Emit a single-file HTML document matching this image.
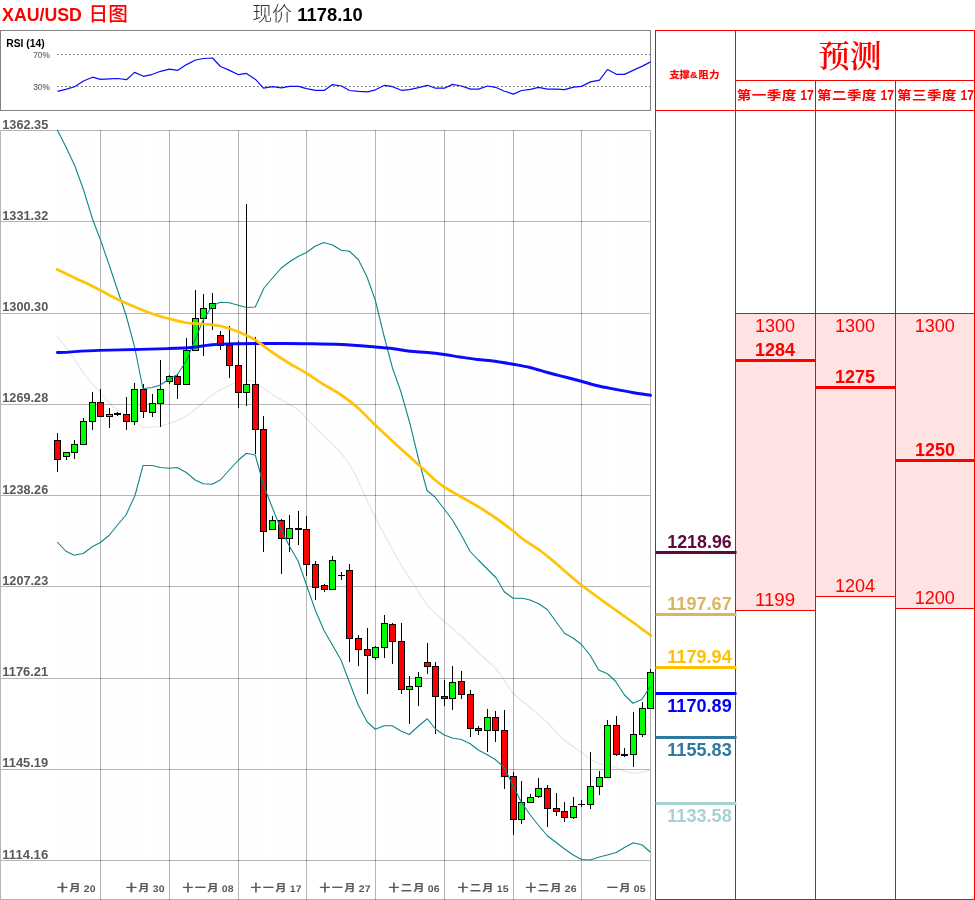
<!DOCTYPE html>
<html lang="zh-CN">
<head>
<meta charset="utf-8">
<title>XAU/USD 日图</title>
<style>
html,body{margin:0;padding:0;background:#fff;}
body{width:975px;height:900px;overflow:hidden;}
svg{display:block;}
</style>
</head>
<body>
<svg width="975" height="900" viewBox="0 0 975 900" role="img" aria-label="XAU/USD 日图">
<rect width="975" height="900" fill="#ffffff"/>
<text><tspan x="2.1" y="21.1" font-size="18.9" fill="#ff0000" font-weight="bold" text-anchor="start" font-family='"Liberation Sans", "Noto Sans CJK SC", sans-serif' textLength="79.8" lengthAdjust="spacingAndGlyphs" >XAU/USD</tspan> <tspan x="88.6" y="20.6" font-size="19.6" fill="#ff0000" font-weight="500" text-anchor="start" font-family='"Liberation Sans", "Noto Sans CJK SC", sans-serif' textLength="39.2" lengthAdjust="spacingAndGlyphs" >日图</tspan></text>
<text><tspan x="252.2" y="21.2" font-size="20.4" fill="#303030" font-weight="300" text-anchor="start" font-family='"Liberation Sans", "Noto Sans CJK SC", sans-serif' textLength="39.8" lengthAdjust="spacingAndGlyphs" >现价</tspan> <tspan x="297.3" y="21.3" font-size="18.9" fill="#000000" font-weight="bold" text-anchor="start" font-family='"Liberation Sans", "Noto Sans CJK SC", sans-serif' textLength="65.4" lengthAdjust="spacingAndGlyphs" >1178.10</tspan></text>
<g shape-rendering="crispEdges">
<rect x="0" y="30" width="651" height="1" fill="#808080"/>
<rect x="0" y="110" width="651" height="1" fill="#808080"/>
<rect x="0" y="30" width="1" height="81" fill="#808080"/>
<rect x="650" y="30" width="1" height="81" fill="#808080"/>
</g>
<text x="6.3" y="47" font-size="11.4" fill="#000000" font-weight="bold" text-anchor="start" font-family='"Liberation Sans", "Noto Sans CJK SC", sans-serif' textLength="38.4" lengthAdjust="spacingAndGlyphs" >RSI (14)</text>
<text x="33.2" y="58" font-size="8.3" fill="#666666" font-weight="normal" text-anchor="start" font-family='"Liberation Sans", "Noto Sans CJK SC", sans-serif' textLength="16.6" lengthAdjust="spacingAndGlyphs" stroke="#666666" stroke-width="0.15">70%</text>
<text x="33.2" y="90" font-size="8.3" fill="#666666" font-weight="normal" text-anchor="start" font-family='"Liberation Sans", "Noto Sans CJK SC", sans-serif' textLength="16.6" lengthAdjust="spacingAndGlyphs" stroke="#666666" stroke-width="0.15">30%</text>
<path d="M57 54.5H650M57 86.5H650" stroke="#6a6a6a" stroke-width="1" stroke-dasharray="1.6 2.4" fill="none"/>
<polyline points="57.50,91.40 66.50,89.10 74.50,86.70 83.50,81.00 92.50,77.20 100.50,79.40 109.50,78.80 117.50,78.50 126.50,79.70 134.50,72.40 143.50,76.30 152.50,74.30 160.50,71.30 169.50,69.10 177.50,70.40 186.50,64.60 195.50,60.00 203.50,58.50 212.50,58.00 220.50,66.50 229.50,70.40 238.50,74.70 246.50,73.40 255.50,79.40 263.50,88.20 272.50,86.70 281.50,87.80 289.50,86.40 298.50,86.40 306.50,88.70 315.50,90.30 324.50,90.30 332.50,84.60 341.50,86.00 349.50,90.50 358.50,91.40 367.50,91.90 375.50,89.80 384.50,85.30 392.50,86.70 401.50,90.30 409.50,89.60 418.50,87.70 427.50,85.30 435.50,88.20 444.50,88.20 452.50,84.40 461.50,86.00 470.50,89.10 478.50,89.10 487.50,86.00 495.50,87.30 504.50,91.20 513.50,94.10 521.50,90.50 530.50,89.40 538.50,87.30 547.50,89.10 556.50,89.10 564.50,89.60 573.50,87.10 581.50,86.40 590.50,81.90 599.50,80.10 607.50,69.50 616.50,74.30 624.50,74.40 633.50,70.10 642.50,66.10 650.50,61.90" fill="none" stroke="#0a0aff" stroke-width="1.2" stroke-linejoin="round"/>
<g shape-rendering="crispEdges">
<rect x="57" y="131" width="1" height="729" fill="#fdfdfd"/>
<rect x="66" y="131" width="1" height="729" fill="#fdfdfd"/>
<rect x="74" y="131" width="1" height="729" fill="#fdfdfd"/>
<rect x="83" y="131" width="1" height="729" fill="#fdfdfd"/>
<rect x="92" y="131" width="1" height="729" fill="#fdfdfd"/>
<rect x="109" y="131" width="1" height="729" fill="#fdfdfd"/>
<rect x="117" y="131" width="1" height="729" fill="#fdfdfd"/>
<rect x="126" y="131" width="1" height="729" fill="#fdfdfd"/>
<rect x="134" y="131" width="1" height="729" fill="#fdfdfd"/>
<rect x="143" y="131" width="1" height="729" fill="#fdfdfd"/>
<rect x="152" y="131" width="1" height="729" fill="#fdfdfd"/>
<rect x="160" y="131" width="1" height="729" fill="#fdfdfd"/>
<rect x="177" y="131" width="1" height="729" fill="#fdfdfd"/>
<rect x="186" y="131" width="1" height="729" fill="#fdfdfd"/>
<rect x="195" y="131" width="1" height="729" fill="#fdfdfd"/>
<rect x="203" y="131" width="1" height="729" fill="#fdfdfd"/>
<rect x="212" y="131" width="1" height="729" fill="#fdfdfd"/>
<rect x="220" y="131" width="1" height="729" fill="#fdfdfd"/>
<rect x="229" y="131" width="1" height="729" fill="#fdfdfd"/>
<rect x="246" y="131" width="1" height="729" fill="#fdfdfd"/>
<rect x="255" y="131" width="1" height="729" fill="#fdfdfd"/>
<rect x="263" y="131" width="1" height="729" fill="#fdfdfd"/>
<rect x="272" y="131" width="1" height="729" fill="#fdfdfd"/>
<rect x="281" y="131" width="1" height="729" fill="#fdfdfd"/>
<rect x="289" y="131" width="1" height="729" fill="#fdfdfd"/>
<rect x="298" y="131" width="1" height="729" fill="#fdfdfd"/>
<rect x="315" y="131" width="1" height="729" fill="#fdfdfd"/>
<rect x="324" y="131" width="1" height="729" fill="#fdfdfd"/>
<rect x="332" y="131" width="1" height="729" fill="#fdfdfd"/>
<rect x="341" y="131" width="1" height="729" fill="#fdfdfd"/>
<rect x="349" y="131" width="1" height="729" fill="#fdfdfd"/>
<rect x="358" y="131" width="1" height="729" fill="#fdfdfd"/>
<rect x="367" y="131" width="1" height="729" fill="#fdfdfd"/>
<rect x="384" y="131" width="1" height="729" fill="#fdfdfd"/>
<rect x="392" y="131" width="1" height="729" fill="#fdfdfd"/>
<rect x="401" y="131" width="1" height="729" fill="#fdfdfd"/>
<rect x="409" y="131" width="1" height="729" fill="#fdfdfd"/>
<rect x="418" y="131" width="1" height="729" fill="#fdfdfd"/>
<rect x="427" y="131" width="1" height="729" fill="#fdfdfd"/>
<rect x="435" y="131" width="1" height="729" fill="#fdfdfd"/>
<rect x="452" y="131" width="1" height="729" fill="#fdfdfd"/>
<rect x="461" y="131" width="1" height="729" fill="#fdfdfd"/>
<rect x="470" y="131" width="1" height="729" fill="#fdfdfd"/>
<rect x="478" y="131" width="1" height="729" fill="#fdfdfd"/>
<rect x="487" y="131" width="1" height="729" fill="#fdfdfd"/>
<rect x="495" y="131" width="1" height="729" fill="#fdfdfd"/>
<rect x="504" y="131" width="1" height="729" fill="#fdfdfd"/>
<rect x="521" y="131" width="1" height="729" fill="#fdfdfd"/>
<rect x="530" y="131" width="1" height="729" fill="#fdfdfd"/>
<rect x="538" y="131" width="1" height="729" fill="#fdfdfd"/>
<rect x="547" y="131" width="1" height="729" fill="#fdfdfd"/>
<rect x="556" y="131" width="1" height="729" fill="#fdfdfd"/>
<rect x="564" y="131" width="1" height="729" fill="#fdfdfd"/>
<rect x="573" y="131" width="1" height="729" fill="#fdfdfd"/>
<rect x="590" y="131" width="1" height="729" fill="#fdfdfd"/>
<rect x="599" y="131" width="1" height="729" fill="#fdfdfd"/>
<rect x="607" y="131" width="1" height="729" fill="#fdfdfd"/>
<rect x="616" y="131" width="1" height="729" fill="#fdfdfd"/>
<rect x="624" y="131" width="1" height="729" fill="#fdfdfd"/>
<rect x="633" y="131" width="1" height="729" fill="#fdfdfd"/>
<rect x="642" y="131" width="1" height="729" fill="#fdfdfd"/>
</g>
<path d="M57.25 336.25C58.71 338.12 63.17 343.75 66.00 347.50C68.83 351.25 71.38 354.58 74.25 358.75C77.12 362.92 80.25 368.33 83.25 372.50C86.25 376.67 89.42 380.42 92.25 383.75C95.08 387.08 97.46 389.38 100.25 392.50C103.04 395.62 106.12 399.58 109.00 402.50C111.88 405.42 114.67 407.92 117.50 410.00C120.33 412.08 123.21 413.12 126.00 415.00C128.79 416.88 131.42 419.25 134.25 421.25C137.08 423.25 140.00 426.04 143.00 427.00C146.00 427.96 149.38 427.12 152.25 427.00C155.12 426.88 157.42 426.88 160.25 426.25C163.08 425.62 166.42 424.21 169.25 423.25C172.08 422.29 174.42 421.67 177.25 420.50C180.08 419.33 183.25 418.12 186.25 416.25C189.25 414.38 192.42 411.54 195.25 409.25C198.08 406.96 200.42 404.88 203.25 402.50C206.08 400.12 209.42 397.08 212.25 395.00C215.08 392.92 217.42 391.58 220.25 390.00C223.08 388.42 226.25 386.83 229.25 385.50C232.25 384.17 234.79 382.83 238.25 382.00C241.71 381.17 247.17 380.42 250.00 380.50C252.83 380.58 251.08 379.88 255.25 382.50C259.42 385.12 267.83 391.67 275.00 396.25C282.17 400.83 291.58 404.79 298.25 410.00C304.92 415.21 308.98 421.50 315.00 427.50C321.02 433.50 329.30 440.75 334.40 446.00C339.50 451.25 342.27 454.58 345.60 459.00C348.93 463.42 351.45 466.92 354.40 472.50C357.35 478.08 359.82 485.00 363.30 492.50C366.78 500.00 371.22 509.58 375.25 517.50C379.28 525.42 383.17 532.08 387.50 540.00C391.83 547.92 396.67 557.29 401.25 565.00C405.83 572.71 410.67 579.58 415.00 586.25C419.33 592.92 422.38 599.17 427.25 605.00C432.12 610.83 438.58 616.04 444.25 621.25C449.92 626.46 455.58 631.04 461.25 636.25C466.92 641.46 472.58 647.21 478.25 652.50C483.92 657.79 490.92 663.42 495.25 668.00C499.58 672.58 501.25 675.79 504.25 680.00C507.25 684.21 508.92 688.67 513.25 693.25C517.58 697.83 524.58 702.62 530.25 707.50C535.92 712.38 541.58 717.08 547.25 722.50C552.92 727.92 558.54 735.00 564.25 740.00C569.96 745.00 577.17 749.29 581.50 752.50C585.83 755.71 587.29 757.38 590.25 759.25C593.21 761.12 596.42 762.71 599.25 763.75C602.08 764.79 604.42 764.88 607.25 765.50C610.08 766.12 613.38 766.54 616.25 767.50C619.12 768.46 621.67 770.33 624.50 771.25C627.33 772.17 630.29 772.88 633.25 773.00C636.21 773.12 639.42 772.50 642.25 772.00C645.08 771.50 648.92 770.33 650.25 770.00" fill="none" stroke="#e5e5e5" stroke-width="1.1" stroke-linejoin="round"/>
<g shape-rendering="crispEdges" fill-opacity="0.29">
<rect x="1" y="130" width="649" height="1" fill="#000"/>
<rect x="1" y="221" width="649" height="1" fill="#000"/>
<rect x="1" y="313" width="649" height="1" fill="#000"/>
<rect x="1" y="404" width="649" height="1" fill="#000"/>
<rect x="1" y="495" width="649" height="1" fill="#000"/>
<rect x="1" y="586" width="649" height="1" fill="#000"/>
<rect x="1" y="678" width="649" height="1" fill="#000"/>
<rect x="1" y="769" width="649" height="1" fill="#000"/>
<rect x="1" y="860" width="649" height="1" fill="#000"/>
<rect x="1" y="899" width="649" height="1" fill="#000"/>
<rect x="100" y="130" width="1" height="770" fill="#000"/>
<rect x="169" y="130" width="1" height="770" fill="#000"/>
<rect x="238" y="130" width="1" height="770" fill="#000"/>
<rect x="306" y="130" width="1" height="770" fill="#000"/>
<rect x="375" y="130" width="1" height="770" fill="#000"/>
<rect x="444" y="130" width="1" height="770" fill="#000"/>
<rect x="513" y="130" width="1" height="770" fill="#000"/>
<rect x="581" y="130" width="1" height="770" fill="#000"/>
<rect x="650" y="130" width="1" height="770" fill="#000"/>
<rect x="0" y="130" width="1" height="770" fill="#000"/>
</g>
<text x="2.3" y="128.65" font-size="12.6" fill="#595959" font-weight="bold" text-anchor="start" font-family='"Liberation Sans", "Noto Sans CJK SC", sans-serif' textLength="45.9" lengthAdjust="spacingAndGlyphs" >1362.35</text>
<text x="2.3" y="219.55" font-size="12.6" fill="#595959" font-weight="bold" text-anchor="start" font-family='"Liberation Sans", "Noto Sans CJK SC", sans-serif' textLength="45.9" lengthAdjust="spacingAndGlyphs" >1331.32</text>
<text x="2.3" y="310.55" font-size="12.6" fill="#595959" font-weight="bold" text-anchor="start" font-family='"Liberation Sans", "Noto Sans CJK SC", sans-serif' textLength="45.9" lengthAdjust="spacingAndGlyphs" >1300.30</text>
<text x="2.3" y="401.55" font-size="12.6" fill="#595959" font-weight="bold" text-anchor="start" font-family='"Liberation Sans", "Noto Sans CJK SC", sans-serif' textLength="45.9" lengthAdjust="spacingAndGlyphs" >1269.28</text>
<text x="2.3" y="493.65" font-size="12.6" fill="#595959" font-weight="bold" text-anchor="start" font-family='"Liberation Sans", "Noto Sans CJK SC", sans-serif' textLength="45.9" lengthAdjust="spacingAndGlyphs" >1238.26</text>
<text x="2.3" y="584.55" font-size="12.6" fill="#595959" font-weight="bold" text-anchor="start" font-family='"Liberation Sans", "Noto Sans CJK SC", sans-serif' textLength="45.9" lengthAdjust="spacingAndGlyphs" >1207.23</text>
<text x="2.3" y="675.55" font-size="12.6" fill="#595959" font-weight="bold" text-anchor="start" font-family='"Liberation Sans", "Noto Sans CJK SC", sans-serif' textLength="45.9" lengthAdjust="spacingAndGlyphs" >1176.21</text>
<text x="2.3" y="766.55" font-size="12.6" fill="#595959" font-weight="bold" text-anchor="start" font-family='"Liberation Sans", "Noto Sans CJK SC", sans-serif' textLength="45.9" lengthAdjust="spacingAndGlyphs" >1145.19</text>
<text x="2.3" y="858.75" font-size="12.6" fill="#595959" font-weight="bold" text-anchor="start" font-family='"Liberation Sans", "Noto Sans CJK SC", sans-serif' textLength="45.9" lengthAdjust="spacingAndGlyphs" >1114.16</text>
<text transform="scale(1.2,1)"><tspan x="47.50 58.00" y="891.3" font-size="9.0" fill="#595959" font-weight="bold" text-anchor="start" font-family='"Liberation Sans", "Noto Sans CJK SC", sans-serif' stroke="#595959" stroke-width="0.25">十月</tspan> <tspan x="79.58" y="891.5" font-size="9.5" fill="#595959" font-weight="bold" text-anchor="end" font-family='"Liberation Sans", "Noto Sans CJK SC", sans-serif' textLength="9.75" lengthAdjust="spacingAndGlyphs" text-rendering="geometricPrecision">20</tspan></text>
<text transform="scale(1.2,1)"><tspan x="105.00 115.50" y="891.3" font-size="9.0" fill="#595959" font-weight="bold" text-anchor="start" font-family='"Liberation Sans", "Noto Sans CJK SC", sans-serif' stroke="#595959" stroke-width="0.25">十月</tspan> <tspan x="137.08" y="891.5" font-size="9.5" fill="#595959" font-weight="bold" text-anchor="end" font-family='"Liberation Sans", "Noto Sans CJK SC", sans-serif' textLength="9.75" lengthAdjust="spacingAndGlyphs" text-rendering="geometricPrecision">30</tspan></text>
<text transform="scale(1.2,1)"><tspan x="152.00 162.50 173.00" y="891.3" font-size="9.0" fill="#595959" font-weight="bold" text-anchor="start" font-family='"Liberation Sans", "Noto Sans CJK SC", sans-serif' stroke="#595959" stroke-width="0.25">十一月</tspan> <tspan x="194.58" y="891.5" font-size="9.5" fill="#595959" font-weight="bold" text-anchor="end" font-family='"Liberation Sans", "Noto Sans CJK SC", sans-serif' textLength="9.75" lengthAdjust="spacingAndGlyphs" text-rendering="geometricPrecision">08</tspan></text>
<text transform="scale(1.2,1)"><tspan x="208.67 219.17 229.67" y="891.3" font-size="9.0" fill="#595959" font-weight="bold" text-anchor="start" font-family='"Liberation Sans", "Noto Sans CJK SC", sans-serif' stroke="#595959" stroke-width="0.25">十一月</tspan> <tspan x="251.25" y="891.5" font-size="9.5" fill="#595959" font-weight="bold" text-anchor="end" font-family='"Liberation Sans", "Noto Sans CJK SC", sans-serif' textLength="9.75" lengthAdjust="spacingAndGlyphs" text-rendering="geometricPrecision">17</tspan></text>
<text transform="scale(1.2,1)"><tspan x="266.17 276.67 287.17" y="891.3" font-size="9.0" fill="#595959" font-weight="bold" text-anchor="start" font-family='"Liberation Sans", "Noto Sans CJK SC", sans-serif' stroke="#595959" stroke-width="0.25">十一月</tspan> <tspan x="308.75" y="891.5" font-size="9.5" fill="#595959" font-weight="bold" text-anchor="end" font-family='"Liberation Sans", "Noto Sans CJK SC", sans-serif' textLength="9.75" lengthAdjust="spacingAndGlyphs" text-rendering="geometricPrecision">27</tspan></text>
<text transform="scale(1.2,1)"><tspan x="323.67 334.17 344.67" y="891.3" font-size="9.0" fill="#595959" font-weight="bold" text-anchor="start" font-family='"Liberation Sans", "Noto Sans CJK SC", sans-serif' stroke="#595959" stroke-width="0.25">十二月</tspan> <tspan x="366.25" y="891.5" font-size="9.5" fill="#595959" font-weight="bold" text-anchor="end" font-family='"Liberation Sans", "Noto Sans CJK SC", sans-serif' textLength="9.75" lengthAdjust="spacingAndGlyphs" text-rendering="geometricPrecision">06</tspan></text>
<text transform="scale(1.2,1)"><tspan x="381.17 391.67 402.17" y="891.3" font-size="9.0" fill="#595959" font-weight="bold" text-anchor="start" font-family='"Liberation Sans", "Noto Sans CJK SC", sans-serif' stroke="#595959" stroke-width="0.25">十二月</tspan> <tspan x="423.75" y="891.5" font-size="9.5" fill="#595959" font-weight="bold" text-anchor="end" font-family='"Liberation Sans", "Noto Sans CJK SC", sans-serif' textLength="9.75" lengthAdjust="spacingAndGlyphs" text-rendering="geometricPrecision">15</tspan></text>
<text transform="scale(1.2,1)"><tspan x="437.83 448.33 458.83" y="891.3" font-size="9.0" fill="#595959" font-weight="bold" text-anchor="start" font-family='"Liberation Sans", "Noto Sans CJK SC", sans-serif' stroke="#595959" stroke-width="0.25">十二月</tspan> <tspan x="480.42" y="891.5" font-size="9.5" fill="#595959" font-weight="bold" text-anchor="end" font-family='"Liberation Sans", "Noto Sans CJK SC", sans-serif' textLength="9.75" lengthAdjust="spacingAndGlyphs" text-rendering="geometricPrecision">26</tspan></text>
<text transform="scale(1.2,1)"><tspan x="505.83 516.33" y="891.3" font-size="9.0" fill="#595959" font-weight="bold" text-anchor="start" font-family='"Liberation Sans", "Noto Sans CJK SC", sans-serif' stroke="#595959" stroke-width="0.25">一月</tspan> <tspan x="537.92" y="891.5" font-size="9.5" fill="#595959" font-weight="bold" text-anchor="end" font-family='"Liberation Sans", "Noto Sans CJK SC", sans-serif' textLength="9.75" lengthAdjust="spacingAndGlyphs" text-rendering="geometricPrecision">05</tspan></text>
<g shape-rendering="crispEdges">
<rect x="57" y="433" width="1" height="39" fill="#000"/>
<rect x="54" y="440" width="7" height="20" fill="#000"/>
<rect x="55" y="441" width="5" height="18" fill="#ff0000"/>
<rect x="66" y="452" width="1" height="8" fill="#000"/>
<rect x="63" y="452" width="7" height="5" fill="#000"/>
<rect x="64" y="453" width="5" height="3" fill="#00ff00"/>
<rect x="74" y="440" width="1" height="19" fill="#000"/>
<rect x="71" y="444" width="7" height="9" fill="#000"/>
<rect x="72" y="445" width="5" height="7" fill="#00ff00"/>
<rect x="83" y="418" width="1" height="27" fill="#000"/>
<rect x="80" y="421" width="7" height="24" fill="#000"/>
<rect x="81" y="422" width="5" height="22" fill="#00ff00"/>
<rect x="92" y="392" width="1" height="38" fill="#000"/>
<rect x="89" y="402" width="7" height="20" fill="#000"/>
<rect x="90" y="403" width="5" height="18" fill="#00ff00"/>
<rect x="100" y="389" width="1" height="28" fill="#000"/>
<rect x="97" y="402" width="7" height="15" fill="#000"/>
<rect x="98" y="403" width="5" height="13" fill="#ff0000"/>
<rect x="109" y="408" width="1" height="20" fill="#000"/>
<rect x="106" y="414" width="7" height="3" fill="#000"/>
<rect x="107" y="415" width="5" height="1" fill="#00ff00"/>
<rect x="117" y="412" width="1" height="4" fill="#000"/>
<rect x="114" y="413" width="7" height="2" fill="#000"/>
<rect x="126" y="397" width="1" height="33" fill="#000"/>
<rect x="123" y="414" width="7" height="8" fill="#000"/>
<rect x="124" y="415" width="5" height="6" fill="#ff0000"/>
<rect x="134" y="383" width="1" height="42" fill="#000"/>
<rect x="131" y="389" width="7" height="33" fill="#000"/>
<rect x="132" y="390" width="5" height="31" fill="#00ff00"/>
<rect x="143" y="384" width="1" height="34" fill="#000"/>
<rect x="140" y="389" width="7" height="23" fill="#000"/>
<rect x="141" y="390" width="5" height="21" fill="#ff0000"/>
<rect x="152" y="394" width="1" height="23" fill="#000"/>
<rect x="149" y="403" width="7" height="10" fill="#000"/>
<rect x="150" y="404" width="5" height="8" fill="#00ff00"/>
<rect x="160" y="360" width="1" height="67" fill="#000"/>
<rect x="157" y="389" width="7" height="15" fill="#000"/>
<rect x="158" y="390" width="5" height="13" fill="#00ff00"/>
<rect x="169" y="375" width="1" height="9" fill="#000"/>
<rect x="166" y="376" width="7" height="6" fill="#000"/>
<rect x="167" y="377" width="5" height="4" fill="#00ff00"/>
<rect x="177" y="374" width="1" height="25" fill="#000"/>
<rect x="174" y="376" width="7" height="9" fill="#000"/>
<rect x="175" y="377" width="5" height="7" fill="#ff0000"/>
<rect x="186" y="338" width="1" height="47" fill="#000"/>
<rect x="183" y="350" width="7" height="35" fill="#000"/>
<rect x="184" y="351" width="5" height="33" fill="#00ff00"/>
<rect x="195" y="290" width="1" height="61" fill="#000"/>
<rect x="192" y="318" width="7" height="33" fill="#000"/>
<rect x="193" y="319" width="5" height="31" fill="#00ff00"/>
<rect x="203" y="294" width="1" height="62" fill="#000"/>
<rect x="200" y="308" width="7" height="11" fill="#000"/>
<rect x="201" y="309" width="5" height="9" fill="#00ff00"/>
<rect x="212" y="293" width="1" height="37" fill="#000"/>
<rect x="209" y="303" width="7" height="6" fill="#000"/>
<rect x="210" y="304" width="5" height="4" fill="#00ff00"/>
<rect x="220" y="331" width="1" height="19" fill="#000"/>
<rect x="217" y="335" width="7" height="11" fill="#000"/>
<rect x="218" y="336" width="5" height="9" fill="#ff0000"/>
<rect x="229" y="326" width="1" height="52" fill="#000"/>
<rect x="226" y="345" width="7" height="21" fill="#000"/>
<rect x="227" y="346" width="5" height="19" fill="#ff0000"/>
<rect x="238" y="341" width="1" height="67" fill="#000"/>
<rect x="235" y="365" width="7" height="28" fill="#000"/>
<rect x="236" y="366" width="5" height="26" fill="#ff0000"/>
<rect x="246" y="204" width="1" height="202" fill="#000"/>
<rect x="243" y="384" width="7" height="9" fill="#000"/>
<rect x="244" y="385" width="5" height="7" fill="#00ff00"/>
<rect x="255" y="337" width="1" height="117" fill="#000"/>
<rect x="252" y="384" width="7" height="46" fill="#000"/>
<rect x="253" y="385" width="5" height="44" fill="#ff0000"/>
<rect x="263" y="416" width="1" height="136" fill="#000"/>
<rect x="260" y="429" width="7" height="103" fill="#000"/>
<rect x="261" y="430" width="5" height="101" fill="#ff0000"/>
<rect x="272" y="516" width="1" height="14" fill="#000"/>
<rect x="269" y="520" width="7" height="10" fill="#000"/>
<rect x="270" y="521" width="5" height="8" fill="#00ff00"/>
<rect x="281" y="519" width="1" height="55" fill="#000"/>
<rect x="278" y="520" width="7" height="19" fill="#000"/>
<rect x="279" y="521" width="5" height="17" fill="#ff0000"/>
<rect x="289" y="515" width="1" height="37" fill="#000"/>
<rect x="286" y="528" width="7" height="11" fill="#000"/>
<rect x="287" y="529" width="5" height="9" fill="#00ff00"/>
<rect x="298" y="511" width="1" height="34" fill="#000"/>
<rect x="295" y="528" width="7" height="2" fill="#000"/>
<rect x="306" y="516" width="1" height="60" fill="#000"/>
<rect x="303" y="529" width="7" height="36" fill="#000"/>
<rect x="304" y="530" width="5" height="34" fill="#ff0000"/>
<rect x="315" y="561" width="1" height="39" fill="#000"/>
<rect x="312" y="564" width="7" height="24" fill="#000"/>
<rect x="313" y="565" width="5" height="22" fill="#ff0000"/>
<rect x="324" y="584" width="1" height="8" fill="#000"/>
<rect x="321" y="585" width="7" height="5" fill="#000"/>
<rect x="322" y="586" width="5" height="3" fill="#ff0000"/>
<rect x="332" y="556" width="1" height="34" fill="#000"/>
<rect x="329" y="560" width="7" height="30" fill="#000"/>
<rect x="330" y="561" width="5" height="28" fill="#00ff00"/>
<rect x="341" y="572" width="1" height="8" fill="#000"/>
<rect x="338" y="575" width="7" height="1" fill="#000"/>
<rect x="349" y="564" width="1" height="98" fill="#000"/>
<rect x="346" y="570" width="7" height="69" fill="#000"/>
<rect x="347" y="571" width="5" height="67" fill="#ff0000"/>
<rect x="358" y="635" width="1" height="31" fill="#000"/>
<rect x="355" y="638" width="7" height="12" fill="#000"/>
<rect x="356" y="639" width="5" height="10" fill="#ff0000"/>
<rect x="367" y="628" width="1" height="66" fill="#000"/>
<rect x="364" y="649" width="7" height="7" fill="#000"/>
<rect x="365" y="650" width="5" height="5" fill="#ff0000"/>
<rect x="375" y="646" width="1" height="14" fill="#000"/>
<rect x="372" y="647" width="7" height="11" fill="#000"/>
<rect x="373" y="648" width="5" height="9" fill="#00ff00"/>
<rect x="384" y="615" width="1" height="43" fill="#000"/>
<rect x="381" y="623" width="7" height="25" fill="#000"/>
<rect x="382" y="624" width="5" height="23" fill="#00ff00"/>
<rect x="392" y="623" width="1" height="41" fill="#000"/>
<rect x="389" y="624" width="7" height="18" fill="#000"/>
<rect x="390" y="625" width="5" height="16" fill="#ff0000"/>
<rect x="401" y="623" width="1" height="71" fill="#000"/>
<rect x="398" y="641" width="7" height="49" fill="#000"/>
<rect x="399" y="642" width="5" height="47" fill="#ff0000"/>
<rect x="409" y="676" width="1" height="48" fill="#000"/>
<rect x="406" y="686" width="7" height="4" fill="#000"/>
<rect x="407" y="687" width="5" height="2" fill="#00ff00"/>
<rect x="418" y="672" width="1" height="34" fill="#000"/>
<rect x="415" y="677" width="7" height="10" fill="#000"/>
<rect x="416" y="678" width="5" height="8" fill="#00ff00"/>
<rect x="427" y="643" width="1" height="31" fill="#000"/>
<rect x="424" y="662" width="7" height="5" fill="#000"/>
<rect x="425" y="663" width="5" height="3" fill="#ff0000"/>
<rect x="435" y="662" width="1" height="72" fill="#000"/>
<rect x="432" y="666" width="7" height="31" fill="#000"/>
<rect x="433" y="667" width="5" height="29" fill="#ff0000"/>
<rect x="444" y="680" width="1" height="26" fill="#000"/>
<rect x="441" y="696" width="7" height="3" fill="#000"/>
<rect x="442" y="697" width="5" height="1" fill="#ff0000"/>
<rect x="452" y="666" width="1" height="44" fill="#000"/>
<rect x="449" y="682" width="7" height="17" fill="#000"/>
<rect x="450" y="683" width="5" height="15" fill="#00ff00"/>
<rect x="461" y="671" width="1" height="28" fill="#000"/>
<rect x="458" y="681" width="7" height="14" fill="#000"/>
<rect x="459" y="682" width="5" height="12" fill="#ff0000"/>
<rect x="470" y="690" width="1" height="47" fill="#000"/>
<rect x="467" y="694" width="7" height="35" fill="#000"/>
<rect x="468" y="695" width="5" height="33" fill="#ff0000"/>
<rect x="478" y="726" width="1" height="9" fill="#000"/>
<rect x="475" y="728" width="7" height="3" fill="#000"/>
<rect x="476" y="729" width="5" height="1" fill="#ff0000"/>
<rect x="487" y="709" width="1" height="43" fill="#000"/>
<rect x="484" y="717" width="7" height="14" fill="#000"/>
<rect x="485" y="718" width="5" height="12" fill="#00ff00"/>
<rect x="495" y="711" width="1" height="31" fill="#000"/>
<rect x="492" y="717" width="7" height="14" fill="#000"/>
<rect x="493" y="718" width="5" height="12" fill="#ff0000"/>
<rect x="504" y="710" width="1" height="79" fill="#000"/>
<rect x="501" y="730" width="7" height="47" fill="#000"/>
<rect x="502" y="731" width="5" height="45" fill="#ff0000"/>
<rect x="513" y="772" width="1" height="63" fill="#000"/>
<rect x="510" y="776" width="7" height="44" fill="#000"/>
<rect x="511" y="777" width="5" height="42" fill="#ff0000"/>
<rect x="521" y="781" width="1" height="43" fill="#000"/>
<rect x="518" y="802" width="7" height="18" fill="#000"/>
<rect x="519" y="803" width="5" height="16" fill="#00ff00"/>
<rect x="530" y="794" width="1" height="9" fill="#000"/>
<rect x="527" y="797" width="7" height="6" fill="#000"/>
<rect x="528" y="798" width="5" height="4" fill="#00ff00"/>
<rect x="538" y="778" width="1" height="20" fill="#000"/>
<rect x="535" y="788" width="7" height="9" fill="#000"/>
<rect x="536" y="789" width="5" height="7" fill="#00ff00"/>
<rect x="547" y="785" width="1" height="42" fill="#000"/>
<rect x="544" y="788" width="7" height="21" fill="#000"/>
<rect x="545" y="789" width="5" height="19" fill="#ff0000"/>
<rect x="556" y="793" width="1" height="23" fill="#000"/>
<rect x="553" y="808" width="7" height="4" fill="#000"/>
<rect x="554" y="809" width="5" height="2" fill="#ff0000"/>
<rect x="564" y="802" width="1" height="20" fill="#000"/>
<rect x="561" y="811" width="7" height="7" fill="#000"/>
<rect x="562" y="812" width="5" height="5" fill="#ff0000"/>
<rect x="573" y="797" width="1" height="22" fill="#000"/>
<rect x="570" y="806" width="7" height="12" fill="#000"/>
<rect x="571" y="807" width="5" height="10" fill="#00ff00"/>
<rect x="581" y="800" width="1" height="7" fill="#000"/>
<rect x="578" y="804" width="7" height="1" fill="#000"/>
<rect x="590" y="752" width="1" height="57" fill="#000"/>
<rect x="587" y="786" width="7" height="19" fill="#000"/>
<rect x="588" y="787" width="5" height="17" fill="#00ff00"/>
<rect x="599" y="771" width="1" height="24" fill="#000"/>
<rect x="596" y="777" width="7" height="10" fill="#000"/>
<rect x="597" y="778" width="5" height="8" fill="#00ff00"/>
<rect x="607" y="720" width="1" height="58" fill="#000"/>
<rect x="604" y="725" width="7" height="53" fill="#000"/>
<rect x="605" y="726" width="5" height="51" fill="#00ff00"/>
<rect x="616" y="716" width="1" height="40" fill="#000"/>
<rect x="613" y="725" width="7" height="30" fill="#000"/>
<rect x="614" y="726" width="5" height="28" fill="#ff0000"/>
<rect x="624" y="748" width="1" height="9" fill="#000"/>
<rect x="621" y="754" width="7" height="2" fill="#000"/>
<rect x="633" y="712" width="1" height="55" fill="#000"/>
<rect x="630" y="734" width="7" height="21" fill="#000"/>
<rect x="631" y="735" width="5" height="19" fill="#00ff00"/>
<rect x="642" y="702" width="1" height="35" fill="#000"/>
<rect x="639" y="708" width="7" height="27" fill="#000"/>
<rect x="640" y="709" width="5" height="25" fill="#00ff00"/>
<rect x="650" y="669" width="1" height="40" fill="#000"/>
<rect x="647" y="672" width="7" height="37" fill="#000"/>
<rect x="648" y="673" width="5" height="35" fill="#00ff00"/>
</g>
<polyline points="57.30,130.00 66.25,147.60 75.00,166.30 83.75,190.50 92.50,219.00 100.50,240.00 109.00,264.50 117.50,290.00 126.00,315.00 134.60,347.00 143.00,388.75 152.25,387.50 160.25,385.00 169.40,379.00 177.40,374.50 186.25,361.00 195.00,340.00 203.25,320.00 212.25,305.75 220.25,302.25 229.25,302.75 238.25,305.25 246.50,307.50 255.25,307.00 264.00,288.00 272.50,278.00 281.25,268.00 290.00,261.50 298.00,256.50 306.50,252.50 315.00,246.25 323.75,242.50 332.50,245.00 341.25,250.25 349.50,251.25 358.25,259.50 366.75,276.25 375.25,300.00 383.75,335.00 392.50,368.00 401.00,392.00 410.00,423.75 418.75,460.00 427.00,490.50 435.00,497.00 444.25,509.25 452.50,520.00 461.25,535.00 470.00,551.25 478.75,560.50 487.50,569.25 496.25,578.00 504.25,591.75 513.00,598.25 522.50,598.25 530.00,600.00 538.75,603.75 547.25,609.50 556.25,622.00 564.50,633.25 573.00,638.00 581.25,644.25 590.00,655.00 598.75,670.00 607.50,673.75 615.50,681.25 624.50,695.00 633.00,703.25 641.75,699.50 650.50,686.25" fill="none" stroke="#0d8686" stroke-width="1.08" stroke-linejoin="round"/>
<polyline points="57.25,542.00 66.00,551.25 74.25,555.25 83.25,553.50 92.25,546.75 100.25,542.50 109.00,535.50 117.50,525.00 126.00,515.00 135.00,495.50 143.00,465.50 152.25,465.50 160.25,467.50 169.25,468.25 177.25,467.50 186.25,472.50 195.25,480.00 203.25,483.75 212.25,484.25 220.25,480.00 229.25,470.00 238.25,460.25 246.50,453.25 255.25,455.00 263.50,485.00 272.25,507.50 281.25,530.00 289.50,546.25 298.10,561.00 306.50,585.00 315.25,610.00 323.75,630.00 332.40,645.00 341.00,660.00 349.50,682.50 358.25,705.00 367.25,722.00 375.25,729.25 384.25,725.75 392.25,725.75 401.25,731.25 409.25,734.50 418.25,726.25 427.25,718.75 435.25,728.75 444.25,735.00 452.25,738.00 461.25,739.50 470.25,743.75 478.25,750.00 487.25,754.75 495.25,759.50 504.25,767.50 513.25,786.25 521.50,802.50 530.25,815.00 538.25,825.00 547.25,835.75 556.25,842.50 564.25,848.75 573.25,855.00 581.50,859.50 590.25,860.00 599.25,857.00 607.25,855.00 616.25,852.50 624.50,847.50 633.25,842.75 642.25,845.00 650.25,852.00" fill="none" stroke="#0d8686" stroke-width="1.08" stroke-linejoin="round"/>
<path d="M57.40 352.55C58.83 352.52 63.13 352.56 66.00 352.40C68.87 352.24 69.07 351.93 74.60 351.60C80.13 351.27 88.93 350.75 99.20 350.40C109.47 350.05 124.70 349.80 136.20 349.50C147.70 349.20 159.60 348.88 168.20 348.60C176.80 348.32 182.88 348.13 187.80 347.80C192.72 347.47 194.83 346.97 197.70 346.60C200.57 346.23 202.53 345.92 205.00 345.60C207.47 345.28 209.67 344.95 212.50 344.70C215.33 344.45 218.32 344.26 222.00 344.10C225.68 343.94 228.40 343.85 234.60 343.75C240.80 343.65 247.22 343.50 259.20 343.50C271.18 343.50 292.82 343.58 306.50 343.75C320.18 343.92 329.79 343.96 341.25 344.50C352.71 345.04 366.50 346.29 375.25 347.00C384.00 347.71 387.96 348.04 393.75 348.75C399.54 349.46 404.38 350.62 410.00 351.25C415.62 351.88 421.79 351.96 427.50 352.50C433.21 353.04 438.83 353.75 444.25 354.50C449.67 355.25 454.46 356.17 460.00 357.00C465.54 357.83 471.67 358.79 477.50 359.50C483.33 360.21 489.08 360.46 495.00 361.25C500.92 362.04 507.17 363.21 513.00 364.25C518.83 365.29 524.25 366.12 530.00 367.50C535.75 368.88 541.67 370.92 547.50 372.50C553.33 374.08 559.38 375.54 565.00 377.00C570.62 378.46 575.83 379.79 581.25 381.25C586.67 382.71 591.88 384.42 597.50 385.75C603.12 387.08 609.17 388.12 615.00 389.25C620.83 390.38 626.58 391.50 632.50 392.50C638.42 393.50 647.50 394.79 650.50 395.25" fill="none" stroke="#0000ff" stroke-opacity="0.96" stroke-width="2.9" stroke-linejoin="round" stroke-linecap="round"/>
<path d="M57.20 269.40C60.17 270.83 69.12 275.19 75.00 278.00C80.88 280.81 86.83 283.42 92.50 286.25C98.17 289.08 104.12 292.50 109.00 295.00C113.88 297.50 117.21 299.17 121.75 301.25C126.29 303.33 131.17 305.42 136.25 307.50C141.33 309.58 146.75 311.88 152.25 313.75C157.75 315.62 163.58 317.25 169.25 318.75C174.92 320.25 180.58 321.88 186.25 322.75C191.92 323.62 197.58 323.46 203.25 324.00C208.92 324.54 214.42 324.71 220.25 326.00C226.08 327.29 232.42 329.42 238.25 331.75C244.08 334.08 249.54 336.54 255.25 340.00C260.96 343.46 266.71 348.54 272.50 352.50C278.29 356.46 284.33 360.29 290.00 363.75C295.67 367.21 300.88 369.79 306.50 373.25C312.12 376.71 317.96 380.88 323.75 384.50C329.54 388.12 335.62 391.17 341.25 395.00C346.88 398.83 351.83 402.48 357.50 407.50C363.17 412.52 369.42 419.48 375.25 425.10C381.08 430.73 386.71 435.93 392.50 441.25C398.29 446.57 404.38 451.92 410.00 457.00C415.62 462.08 422.08 467.92 426.25 471.75C430.42 475.58 432.00 477.46 435.00 480.00C438.00 482.54 440.08 484.29 444.25 487.00C448.42 489.71 454.46 493.04 460.00 496.25C465.54 499.46 471.67 502.71 477.50 506.25C483.33 509.79 489.08 513.42 495.00 517.50C500.92 521.58 508.42 527.21 513.00 530.75C517.58 534.29 518.00 535.46 522.50 538.75C527.00 542.04 534.58 546.54 540.00 550.50C545.42 554.46 550.83 559.04 555.00 562.50C559.17 565.96 560.62 567.50 565.00 571.25C569.38 575.00 575.83 580.71 581.25 585.00C586.67 589.29 591.88 592.92 597.50 597.00C603.12 601.08 609.17 605.33 615.00 609.50C620.83 613.67 627.50 618.38 632.50 622.00C637.50 625.62 641.95 629.02 645.00 631.25C648.05 633.48 649.83 634.71 650.80 635.40" fill="none" stroke="#ffc408" stroke-width="2.75" stroke-linejoin="round" stroke-linecap="round"/>
<g shape-rendering="crispEdges">
<rect x="735" y="313" width="80" height="297" fill="#ffe3e3"/>
<rect x="735" y="313" width="80" height="1" fill="#ff0000"/>
<rect x="735" y="610" width="80" height="1" fill="#ff0000"/>
<rect x="815" y="313" width="80" height="283" fill="#ffe3e3"/>
<rect x="815" y="313" width="80" height="1" fill="#ff0000"/>
<rect x="815" y="596" width="80" height="1" fill="#ff0000"/>
<rect x="895" y="313" width="79" height="295" fill="#ffe3e3"/>
<rect x="895" y="313" width="79" height="1" fill="#ff0000"/>
<rect x="895" y="608" width="79" height="1" fill="#ff0000"/>
<rect x="655" y="30" width="320" height="1" fill="#ff0000"/>
<rect x="735" y="80" width="240" height="1" fill="#ff0000"/>
<rect x="655" y="110" width="320" height="1" fill="#ff0000"/>
<rect x="655" y="899" width="320" height="1" fill="#ff0000"/>
<rect x="655" y="30" width="1" height="870" fill="#ff0000"/>
<rect x="735" y="30" width="1" height="870" fill="#ff0000"/>
<rect x="815" y="80" width="1" height="820" fill="#ff0000"/>
<rect x="895" y="80" width="1" height="820" fill="#ff0000"/>
<rect x="974" y="30" width="1" height="870" fill="#ff0000"/>
<rect x="735" y="359" width="80" height="3" fill="#ff0000"/>
<rect x="815" y="386" width="80" height="3" fill="#ff0000"/>
<rect x="895" y="459" width="80" height="3" fill="#ff0000"/>
</g>
<text transform="scale(1.12,1)"><tspan x="597.68 606.70" y="78.3" font-size="9.0" fill="#ff0000" font-weight="bold" text-anchor="start" font-family='"Liberation Sans", "Noto Sans CJK SC", sans-serif' stroke="#ff0000" stroke-width="0.2">支撑</tspan><tspan x="616.07" y="78.5" font-size="8.8" fill="#ff0000" font-weight="bold" text-anchor="start" font-family='"Liberation Sans", "Noto Sans CJK SC", sans-serif' textLength="6.79" lengthAdjust="spacingAndGlyphs" stroke="#ff0000" stroke-width="0.2">&amp;</tspan><tspan x="623.66 633.30" y="78.3" font-size="9.0" fill="#ff0000" font-weight="bold" text-anchor="start" font-family='"Liberation Sans", "Noto Sans CJK SC", sans-serif' stroke="#ff0000" stroke-width="0.2">阻力</tspan></text>
<text x="849.7" y="66.7" font-size="31" fill="#ff0000" font-weight="600" text-anchor="middle" font-family='"Liberation Serif", "Noto Serif CJK SC", serif' textLength="63.6" lengthAdjust="spacingAndGlyphs" >预测</text>
<text transform="scale(1.17,1)"><tspan x="629.74 642.52 655.30 668.08" y="99.7" font-size="12.5" fill="#ff0000" font-weight="bold" text-anchor="start" font-family='"Liberation Sans", "Noto Sans CJK SC", sans-serif' >第一季度</tspan> <tspan x="695.64" y="100.1" font-size="14.4" fill="#ff0000" font-weight="bold" text-anchor="end" font-family='"Liberation Sans", "Noto Sans CJK SC", sans-serif' textLength="11.62" lengthAdjust="spacingAndGlyphs" >17</tspan></text>
<text transform="scale(1.17,1)"><tspan x="698.29 711.07 723.85 736.62" y="99.7" font-size="12.5" fill="#ff0000" font-weight="bold" text-anchor="start" font-family='"Liberation Sans", "Noto Sans CJK SC", sans-serif' >第二季度</tspan> <tspan x="764.19" y="100.1" font-size="14.4" fill="#ff0000" font-weight="bold" text-anchor="end" font-family='"Liberation Sans", "Noto Sans CJK SC", sans-serif' textLength="11.62" lengthAdjust="spacingAndGlyphs" >17</tspan></text>
<text transform="scale(1.17,1)"><tspan x="766.67 779.44 792.22 805.00" y="99.7" font-size="12.5" fill="#ff0000" font-weight="bold" text-anchor="start" font-family='"Liberation Sans", "Noto Sans CJK SC", sans-serif' >第三季度</tspan> <tspan x="832.56" y="100.1" font-size="14.4" fill="#ff0000" font-weight="bold" text-anchor="end" font-family='"Liberation Sans", "Noto Sans CJK SC", sans-serif' textLength="11.62" lengthAdjust="spacingAndGlyphs" >17</tspan></text>
<text x="775.0" y="332" font-size="18.2" fill="#ff0000" font-weight="normal" text-anchor="middle" font-family='"Liberation Sans", "Noto Sans CJK SC", sans-serif' textLength="40.2" lengthAdjust="spacingAndGlyphs" >1300</text>
<text x="855.0" y="332" font-size="18.2" fill="#ff0000" font-weight="normal" text-anchor="middle" font-family='"Liberation Sans", "Noto Sans CJK SC", sans-serif' textLength="40.2" lengthAdjust="spacingAndGlyphs" >1300</text>
<text x="934.8" y="332" font-size="18.2" fill="#ff0000" font-weight="normal" text-anchor="middle" font-family='"Liberation Sans", "Noto Sans CJK SC", sans-serif' textLength="40.2" lengthAdjust="spacingAndGlyphs" >1300</text>
<text x="775.1" y="356" font-size="18.2" fill="#ff0000" font-weight="bold" text-anchor="middle" font-family='"Liberation Sans", "Noto Sans CJK SC", sans-serif' textLength="40" lengthAdjust="spacingAndGlyphs" >1284</text>
<text x="855.1" y="382.7" font-size="18.2" fill="#ff0000" font-weight="bold" text-anchor="middle" font-family='"Liberation Sans", "Noto Sans CJK SC", sans-serif' textLength="40" lengthAdjust="spacingAndGlyphs" >1275</text>
<text x="934.9" y="456" font-size="18.2" fill="#ff0000" font-weight="bold" text-anchor="middle" font-family='"Liberation Sans", "Noto Sans CJK SC", sans-serif' textLength="40" lengthAdjust="spacingAndGlyphs" >1250</text>
<text x="775.0" y="605.7" font-size="18.2" fill="#ff0000" font-weight="normal" text-anchor="middle" font-family='"Liberation Sans", "Noto Sans CJK SC", sans-serif' textLength="40.2" lengthAdjust="spacingAndGlyphs" >1199</text>
<text x="855.0" y="591.7" font-size="18.2" fill="#ff0000" font-weight="normal" text-anchor="middle" font-family='"Liberation Sans", "Noto Sans CJK SC", sans-serif' textLength="40.2" lengthAdjust="spacingAndGlyphs" >1204</text>
<text x="934.8" y="604" font-size="18.2" fill="#ff0000" font-weight="normal" text-anchor="middle" font-family='"Liberation Sans", "Noto Sans CJK SC", sans-serif' textLength="40.2" lengthAdjust="spacingAndGlyphs" >1200</text>
<rect x="655.6" y="551" width="80.89999999999998" height="3" fill="#5c0a3c"/>
<rect x="655.6" y="613" width="80.89999999999998" height="3" fill="#d9b560"/>
<rect x="655.6" y="666" width="80.89999999999998" height="3" fill="#ffc000"/>
<rect x="655.6" y="692" width="80.89999999999998" height="3" fill="#0000ff"/>
<rect x="655.6" y="736" width="80.89999999999998" height="3" fill="#2f78a0"/>
<rect x="655.6" y="802" width="80.89999999999998" height="3" fill="#a9d1d1"/>
<text x="731.7" y="547.7" font-size="18.2" fill="#5c0a3c" font-weight="bold" text-anchor="end" font-family='"Liberation Sans", "Noto Sans CJK SC", sans-serif' textLength="64.4" lengthAdjust="spacingAndGlyphs" >1218.96</text>
<text x="731.7" y="610" font-size="18.2" fill="#d9b560" font-weight="bold" text-anchor="end" font-family='"Liberation Sans", "Noto Sans CJK SC", sans-serif' textLength="64.4" lengthAdjust="spacingAndGlyphs" >1197.67</text>
<text x="731.7" y="663.3" font-size="18.2" fill="#ffc000" font-weight="bold" text-anchor="end" font-family='"Liberation Sans", "Noto Sans CJK SC", sans-serif' textLength="64.4" lengthAdjust="spacingAndGlyphs" >1179.94</text>
<text x="731.7" y="711.7" font-size="18.2" fill="#0000ff" font-weight="bold" text-anchor="end" font-family='"Liberation Sans", "Noto Sans CJK SC", sans-serif' textLength="64.4" lengthAdjust="spacingAndGlyphs" >1170.89</text>
<text x="731.7" y="755.9" font-size="18.2" fill="#2f78a0" font-weight="bold" text-anchor="end" font-family='"Liberation Sans", "Noto Sans CJK SC", sans-serif' textLength="64.4" lengthAdjust="spacingAndGlyphs" >1155.83</text>
<text x="731.7" y="821.9" font-size="18.2" fill="#a9d1d1" font-weight="bold" text-anchor="end" font-family='"Liberation Sans", "Noto Sans CJK SC", sans-serif' textLength="64.4" lengthAdjust="spacingAndGlyphs" >1133.58</text>
</svg>
</body>
</html>
